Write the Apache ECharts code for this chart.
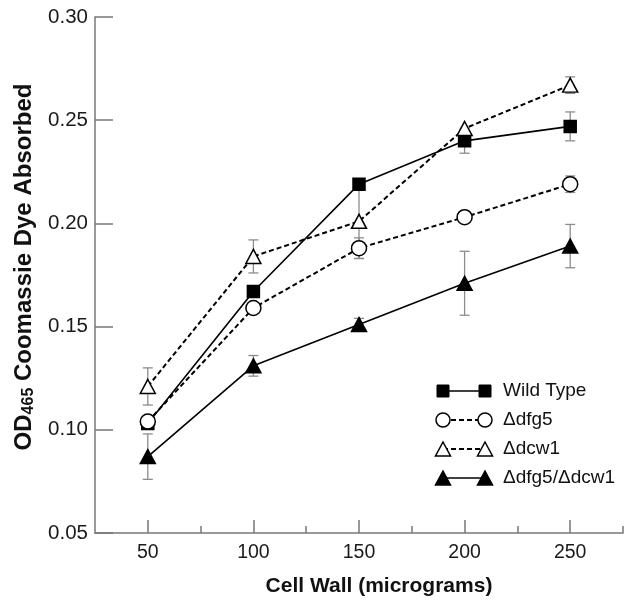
<!DOCTYPE html>
<html>
<head>
<meta charset="utf-8">
<script src="https://cdn.jsdelivr.net/npm/echarts@6/dist/echarts.min.js"></script>
<style>
html,body{margin:0;padding:0;background:#fff;}
#chart{width:626px;height:602px;}
</style>
</head>
<body>
<div id="chart"></div>
<script>
// ---- data ----
const xValues = [50, 100, 150, 200, 250];
const xTickLabels = [50, 100, 150, 200, 250];
const xMinorTicks = [75, 125, 175, 225, 275];
const seriesNames = ['Wild Type', '\u0394dfg5', '\u0394dcw1', '\u0394dfg5/\u0394dcw1'];
const wildType      = [0.103, 0.167, 0.219, 0.240, 0.247];
const wildTypeErr   = [0, 0, 0, 0.006, 0.007];
const dfg5          = [0.104, 0.159, 0.188, 0.203, 0.219];
const dfg5Err       = [0, 0, 0.005, 0, 0.004];
const dcw1          = [0.121, 0.184, 0.201, 0.246, 0.267];
const dcw1Err       = [0.009, 0.008, 0.018, 0, 0.004];
const dfg5dcw1      = [0.087, 0.131, 0.151, 0.171, 0.189];
const dfg5dcw1Err   = [0.011, 0.005, 0.003, 0.0155, 0.0105];

const FONT = 'Arial, "Liberation Sans", Helvetica, sans-serif';
const AXIS_COLOR = '#777';
const ERR_COLOR = '#8c8c8c';

const allVals = [wildType, dfg5, dcw1, dfg5dcw1];
const allErrs = [wildTypeErr, dfg5Err, dcw1Err, dfg5dcw1Err];

const styles = [
  {symbol: 'rect', size: 12, fill: '#000', dash: 'solid', lw: 1.6},
  {symbol: 'circle', size: 15, fill: '#fff', dash: [5, 3], lw: 2},
  {symbol: 'triangle', size: [15, 14], fill: '#fff', dash: [5, 3], lw: 2},
  {symbol: 'triangle', size: [15, 14], fill: '#000', dash: 'solid', lw: 1.6}
];

// error bar data [x, low, high]
const errData = [];
allVals.forEach((vals, s) => {
  vals.forEach((v, i) => {
    const e = allErrs[s][i];
    if (e > 0) errData.push([xValues[i], v - e, v + e]);
  });
});

const series = [{
  type: 'custom',
  z: 1,
  silent: true,
  data: errData,
  encode: {x: 0, y: [1, 2]},
  renderItem: function (params, api) {
    const x = api.value(0);
    const lo = api.coord([x, api.value(1)]);
    const hi = api.coord([x, api.value(2)]);
    const cap = 5;
    const st = {stroke: ERR_COLOR, lineWidth: 1.3};
    return {
      type: 'group',
      children: [
        {type: 'line', shape: {x1: lo[0], y1: lo[1], x2: hi[0], y2: hi[1]}, style: st},
        {type: 'line', shape: {x1: lo[0] - cap, y1: lo[1], x2: lo[0] + cap, y2: lo[1]}, style: st},
        {type: 'line', shape: {x1: hi[0] - cap, y1: hi[1], x2: hi[0] + cap, y2: hi[1]}, style: st}
      ]
    };
  }
}];

allVals.forEach((vals, s) => {
  const st = styles[s];
  series.push({
    name: seriesNames[s],
    type: 'line',
    z: 2,
    data: vals.map((v, i) => [xValues[i], v]),
    symbol: st.symbol,
    symbolSize: st.size,
    showSymbol: true,
    lineStyle: {color: '#000', width: st.lw, type: st.dash},
    itemStyle: {color: st.fill, borderColor: '#000', borderWidth: 1.5, opacity: 1},
    emphasis: {disabled: true}
  });
});

// legend drawn as graphic (symbols at both ends of line)
const legendLeft = 443, legendRight = 485, legendTop = 391, legendStep = 29;
const legendChildren = [];
seriesNames.forEach((name, s) => {
  const st = styles[s];
  const y = legendTop + legendStep * s;
  legendChildren.push({
    type: 'line',
    shape: {x1: legendLeft, y1: y, x2: legendRight, y2: y},
    style: {stroke: '#000', lineWidth: st.lw, lineDash: st.dash === 'solid' ? null : st.dash}
  });
  [legendLeft, legendRight].forEach(cx => {
    let el;
    if (st.symbol === 'rect') {
      el = {type: 'rect', shape: {x: cx - 6, y: y - 6, width: 12, height: 12}, style: {fill: st.fill, stroke: '#000', lineWidth: 1}};
    } else if (st.symbol === 'circle') {
      el = {type: 'circle', shape: {cx: cx, cy: y, r: 7}, style: {fill: st.fill, stroke: '#000', lineWidth: 1.5}};
    } else {
      el = {type: 'polygon', shape: {points: [[cx, y - 7], [cx + 7.5, y + 7], [cx - 7.5, y + 7]]}, style: {fill: st.fill, stroke: '#000', lineWidth: 1.5}};
    }
    legendChildren.push(el);
  });
  legendChildren.push({
    type: 'text',
    x: 503, y: y,
    style: {text: name, font: '19px ' + FONT, fill: '#111', verticalAlign: 'middle', align: 'left'}
  });
});

const option = {
  animation: false,
  backgroundColor: '#fff',
  grid: {left: 95, right: 3, top: 17, bottom: 67, containLabel: false},
  xAxis: [{
    type: 'value',
    min: 25, max: 275,
    name: 'Cell Wall (micrograms)',
    nameLocation: 'middle',
    nameGap: 43,
    nameTextStyle: {fontFamily: FONT, fontSize: 21, fontWeight: 'bold', color: '#111', padding: [0, 0, 0, 40]},
    axisLine: {show: true, lineStyle: {color: AXIS_COLOR, width: 1.5}},
    axisTick: {show: true, inside: true, length: 13, customValues: xTickLabels, lineStyle: {color: AXIS_COLOR, width: 1.5}},
    axisLabel: {show: true, customValues: xTickLabels, margin: 10, fontFamily: FONT, fontSize: 19.5, color: '#1a1a1a'},
    splitLine: {show: false}
  }, {
    type: 'value',
    min: 25, max: 275,
    position: 'bottom',
    axisLine: {show: false},
    axisTick: {show: true, inside: true, length: 7, customValues: xMinorTicks, lineStyle: {color: AXIS_COLOR, width: 1.5}},
    axisLabel: {show: false},
    splitLine: {show: false}
  }],
  yAxis: {
    type: 'value',
    min: 0.05, max: 0.30, interval: 0.05,
    name: '{b|OD}{s|465}{b| Coomassie Dye Absorbed}',
    nameLocation: 'middle',
    nameGap: 58,
    nameRotate: 90,
    nameTextStyle: {
      fontFamily: FONT, color: '#111',
      padding: [0, 0, 0, 16],
      rich: {
        b: {fontFamily: FONT, fontSize: 24, fontWeight: 'bold', color: '#111'},
        s: {fontFamily: FONT, fontSize: 16, fontWeight: 'bold', color: '#111', verticalAlign: 'bottom', padding: [9, 0, 0, 0]}
      }
    },
    axisLine: {show: true, lineStyle: {color: AXIS_COLOR, width: 1.5}},
    axisTick: {show: true, inside: true, length: 18, lineStyle: {color: AXIS_COLOR, width: 1.5}},
    axisLabel: {margin: 7, fontFamily: FONT, fontSize: 20.5, color: '#1a1a1a', formatter: v => v.toFixed(2)},
    splitLine: {show: false}
  },
  graphic: [{type: 'group', children: legendChildren}],
  series: series
};

const chart = echarts.init(document.getElementById('chart'), null, {renderer: 'canvas'});
chart.setOption(option);
</script>
</body>
</html>
